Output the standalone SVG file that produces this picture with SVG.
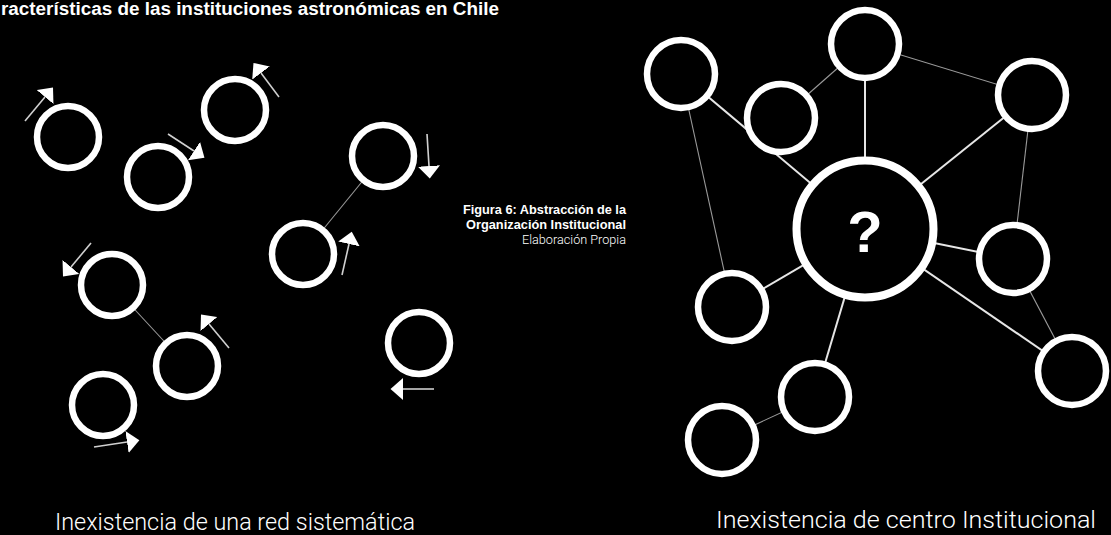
<svg xmlns="http://www.w3.org/2000/svg" width="1111" height="535" viewBox="0 0 1111 535">
<defs>
<style>
.bg{fill:#000}
.n{fill:#000;stroke:#fff;stroke-width:6.5}
.c{fill:#000;stroke:#fff;stroke-width:8}
.thin{stroke:#9a9a9a;stroke-width:1.1;fill:none}
.thick{stroke:#e6e6e6;stroke-width:2;fill:none}
.arr{stroke:#d0d0d0;stroke-width:1.6;fill:none;marker-end:url(#ah)}
.title{font-family:"Liberation Sans",Arial,sans-serif;font-weight:bold;font-size:18px;fill:#fff}
.capb{font-family:"Liberation Sans",Arial,sans-serif;font-weight:bold;font-size:12.5px;fill:#fff;text-anchor:end}
.capl{font-family:Roboto,"Liberation Sans",sans-serif;font-weight:300;font-size:12.5px;fill:#fff;text-anchor:end}
.lab{font-family:Roboto,"Liberation Sans",sans-serif;font-weight:300;font-size:23.5px;fill:#fff}
.q{font-family:"Liberation Sans",Arial,sans-serif;font-weight:bold;font-size:58px;fill:#fff;text-anchor:middle}
</style>
<marker id="ah" markerUnits="userSpaceOnUse" markerWidth="13" markerHeight="22" viewBox="0 0 13 22" refX="0" refY="11" orient="auto">
<path d="M0,0 L12.5,11 L0,22 z" fill="#fff"/>
</marker>
</defs>
<rect class="bg" x="0" y="0" width="1111" height="535"/>
<text class="title" x="1" y="15" textLength="498" lengthAdjust="spacingAndGlyphs">racterísticas de las instituciones astronómicas en Chile</text>

<g id="connectors">
<line class="thin" x1="383" y1="156" x2="303" y2="254"/>
<line class="thin" x1="112" y1="285" x2="187" y2="366"/>
<line class="thick" x1="681" y1="74" x2="865" y2="229"/>
<line class="thin" x1="681" y1="74" x2="732" y2="307"/>
<line class="thin" x1="781" y1="118" x2="865" y2="44"/>
<line class="thick" x1="865" y1="44" x2="865" y2="229"/>
<line class="thin" x1="865" y1="44" x2="1032" y2="95"/>
<line class="thick" x1="1032" y1="95" x2="865" y2="229"/>
<line class="thin" x1="1032" y1="95" x2="1013" y2="259"/>
<line class="thick" x1="865" y1="229" x2="1013" y2="259"/>
<line class="thick" x1="865" y1="229" x2="1072" y2="371"/>
<line class="thin" x1="1013" y1="259" x2="1072" y2="371"/>
<line class="thick" x1="865" y1="229" x2="732" y2="307"/>
<line class="thick" x1="865" y1="229" x2="815" y2="397"/>
<line class="thin" x1="815" y1="397" x2="722" y2="440"/>
</g>

<g id="arrows">
<line class="arr" x1="25" y1="121" x2="45" y2="97"/>
<line class="arr" x1="168" y1="134" x2="194" y2="151"/>
<line class="arr" x1="279" y1="97" x2="261" y2="73"/>
<line class="arr" x1="427" y1="134" x2="429" y2="166"/>
<line class="arr" x1="342" y1="275" x2="349" y2="244"/>
<line class="arr" x1="91" y1="243" x2="71" y2="267"/>
<line class="arr" x1="229" y1="348" x2="209" y2="324"/>
<line class="arr" x1="94" y1="447" x2="127" y2="442"/>
<line class="arr" x1="434" y1="389" x2="403" y2="389"/>
</g>

<g id="left-a"><circle class="n" cx="68" cy="137" r="31"/></g>
<g id="left-b"><circle class="n" cx="158" cy="177" r="31"/></g>
<g id="left-c"><circle class="n" cx="235" cy="110" r="31"/></g>
<g id="left-d"><circle class="n" cx="383" cy="156" r="31"/></g>
<g id="left-e"><circle class="n" cx="303" cy="254" r="31"/></g>
<g id="left-f"><circle class="n" cx="112" cy="285" r="31"/></g>
<g id="left-g"><circle class="n" cx="187" cy="366" r="31"/></g>
<g id="left-h"><circle class="n" cx="103" cy="405" r="31"/></g>
<g id="left-i"><circle class="n" cx="419" cy="343" r="31"/></g>

<g id="right-1"><circle class="n" cx="681" cy="74" r="34"/></g>
<g id="right-2"><circle class="n" cx="781" cy="118" r="34"/></g>
<g id="right-3"><circle class="n" cx="865" cy="44" r="34"/></g>
<g id="right-4"><circle class="n" cx="1032" cy="95" r="34"/></g>
<g id="right-5"><circle class="n" cx="1013" cy="259" r="34"/></g>
<g id="right-6"><circle class="n" cx="732" cy="307" r="34"/></g>
<g id="right-7"><circle class="n" cx="815" cy="397" r="34"/></g>
<g id="right-8"><circle class="n" cx="722" cy="440" r="34"/></g>
<g id="right-9"><circle class="n" cx="1072" cy="371" r="34"/></g>
<g id="center"><circle class="c" cx="865" cy="229" r="68.5"/><text class="q" x="865" y="252">?</text></g>

<g id="caption">
<text class="capb" x="626" y="213.5" textLength="163" lengthAdjust="spacingAndGlyphs">Figura 6: Abstracción de la</text>
<text class="capb" x="626" y="228.5" textLength="160" lengthAdjust="spacingAndGlyphs">Organización Institucional</text>
<text class="capl" x="626" y="244" textLength="104" lengthAdjust="spacingAndGlyphs">Elaboración Propia</text>
</g>

<text class="lab" x="55" y="530" textLength="360" lengthAdjust="spacingAndGlyphs">Inexistencia de una red sistemática</text>
<text class="lab" x="716" y="528" textLength="380" lengthAdjust="spacingAndGlyphs">Inexistencia de centro Institucional</text>
</svg>
